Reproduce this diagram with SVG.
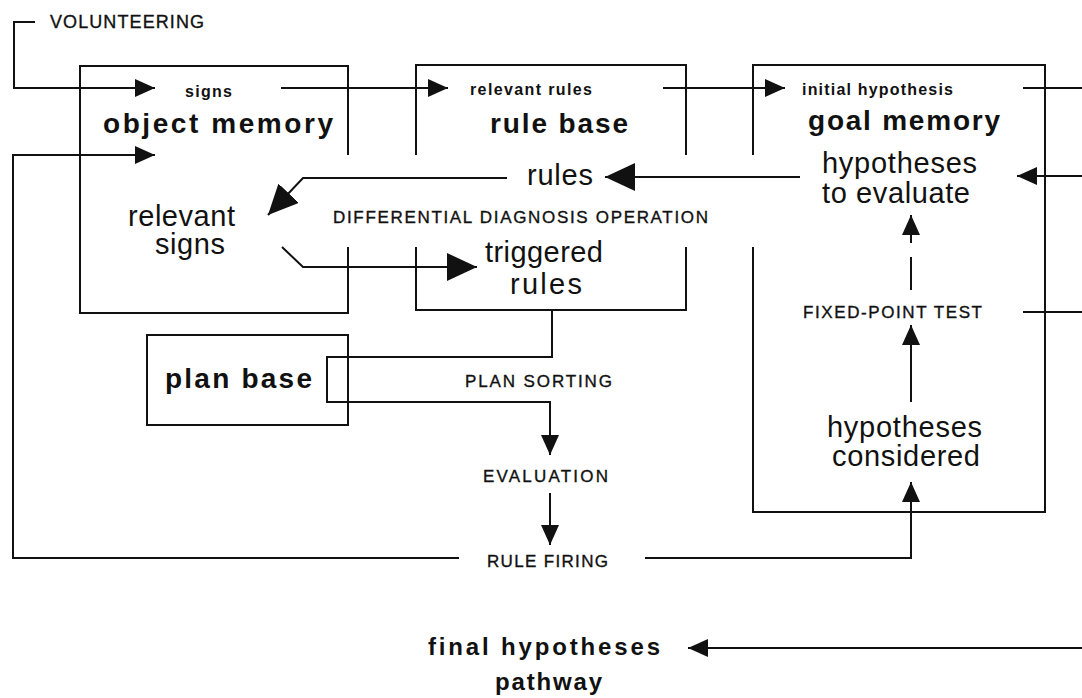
<svg xmlns="http://www.w3.org/2000/svg" width="1082" height="698" viewBox="0 0 1082 698">
<style>
.ln{stroke:#111;stroke-width:2;fill:none}
.bx{stroke:#111;stroke-width:2;fill:none}
text{font-family:"Liberation Sans",Arial,Helvetica,sans-serif;fill:#111}
.big{font-size:28px;font-weight:bold}
.mid{font-size:29px}
.sm{font-size:16px;font-weight:bold}
.cap{font-size:17px;stroke:#111;stroke-width:0.35}
.vol{font-size:18px;stroke:#111;stroke-width:0.35}
.fin{font-size:24px;font-weight:bold}
</style>
<defs>
<marker id="a" viewBox="0 0 20 18" refX="20" refY="9" markerWidth="20" markerHeight="18" markerUnits="userSpaceOnUse" orient="auto"><path d="M0,0 L20,9 L0,18 Z" fill="#111"/></marker>
<marker id="A" viewBox="0 0 30 28" refX="30" refY="14" markerWidth="30" markerHeight="28" markerUnits="userSpaceOnUse" orient="auto"><path d="M0,0 L30,14 L0,28 Z" fill="#111"/></marker>
</defs>
<rect width="1082" height="698" fill="#fff"/>

<g id="object-memory">
<path class="bx" d="M348,155 V66 H80 V313 H348 V247"/>
<text class="sm" x="185" y="97" textLength="47">signs</text>
<text class="big" x="103" y="133" textLength="230">object memory</text>
<text class="mid" x="128" y="226" textLength="107">relevant</text>
<text class="mid" x="155" y="254" textLength="70">signs</text>
</g>

<g id="rule-base">
<path class="bx" d="M416,155 V65 H686 V155 M416,247 V310 H686 V247"/>
<text class="sm" x="470" y="95" textLength="122">relevant rules</text>
<text class="big" x="490" y="133" textLength="138">rule base</text>
<text class="mid" x="485" y="262" textLength="118">triggered</text>
<text class="mid" x="510" y="294" textLength="72">rules</text>
</g>

<g id="goal-memory">
<path class="bx" d="M753,155 V65 H1045 V512 H753 V247"/>
<text class="sm" x="802" y="95" textLength="151">initial hypothesis</text>
<text class="big" x="808" y="130" textLength="192">goal memory</text>
<text class="mid" x="822" y="173" textLength="155">hypotheses</text>
<text class="mid" x="822" y="203" textLength="148">to evaluate</text>
<text class="cap" x="803" y="318" textLength="179">FIXED-POINT TEST</text>
<text class="mid" x="827" y="437" textLength="155">hypotheses</text>
<text class="mid" x="832" y="466" textLength="148">considered</text>
</g>

<g id="plan-base">
<rect class="bx" x="147" y="335" width="201" height="90"/>
<text class="big" x="165" y="388" textLength="147">plan base</text>
</g>

<g id="labels">
<text class="vol" x="50" y="28" textLength="154">VOLUNTEERING</text>
<text class="mid" x="527" y="185" textLength="66">rules</text>
<text class="cap" x="333" y="223" textLength="375">DIFFERENTIAL DIAGNOSIS OPERATION</text>
<text class="cap" x="465" y="387" textLength="147">PLAN SORTING</text>
<text class="cap" x="483" y="482" textLength="125">EVALUATION</text>
<text class="cap" x="487" y="567" textLength="121">RULE FIRING</text>
<text class="fin" x="428" y="655" textLength="232">final hypotheses</text>
<text class="fin" x="495" y="690" textLength="107">pathway</text>
</g>

<g id="connectors">
<path class="ln" d="M35,22 H14 V88 H155" marker-end="url(#a)"/>
<path class="ln" d="M281,88 H448" marker-end="url(#a)"/>
<path class="ln" d="M663,88 H785" marker-end="url(#a)"/>
<path class="ln" d="M1023,88 H1082"/>
<path class="ln" d="M1082,176 H1017" marker-end="url(#a)"/>
<path class="ln" d="M800,177 H605" marker-end="url(#A)"/>
<path class="ln" d="M507,178 H303 L268,215" marker-end="url(#A)"/>
<path class="ln" d="M282,247 L303,267 H477" marker-end="url(#A)"/>
<path class="ln" d="M552,310 V357 H327 V402 H550 V455" marker-end="url(#a)"/>
<path class="ln" d="M550,493 V545" marker-end="url(#a)"/>
<path class="ln" d="M459,558 H13 V155 H155" marker-end="url(#a)"/>
<path class="ln" d="M645,558 H911 V482" marker-end="url(#a)"/>
<path class="ln" d="M911,402 V325" marker-end="url(#a)"/>
<path class="ln" d="M911,290 V257"/>
<path class="ln" d="M911,243 V215" marker-end="url(#a)"/>
<path class="ln" d="M1023,312 H1082"/>
<path class="ln" d="M1082,648 H688" marker-end="url(#a)"/>
</g>
</svg>
